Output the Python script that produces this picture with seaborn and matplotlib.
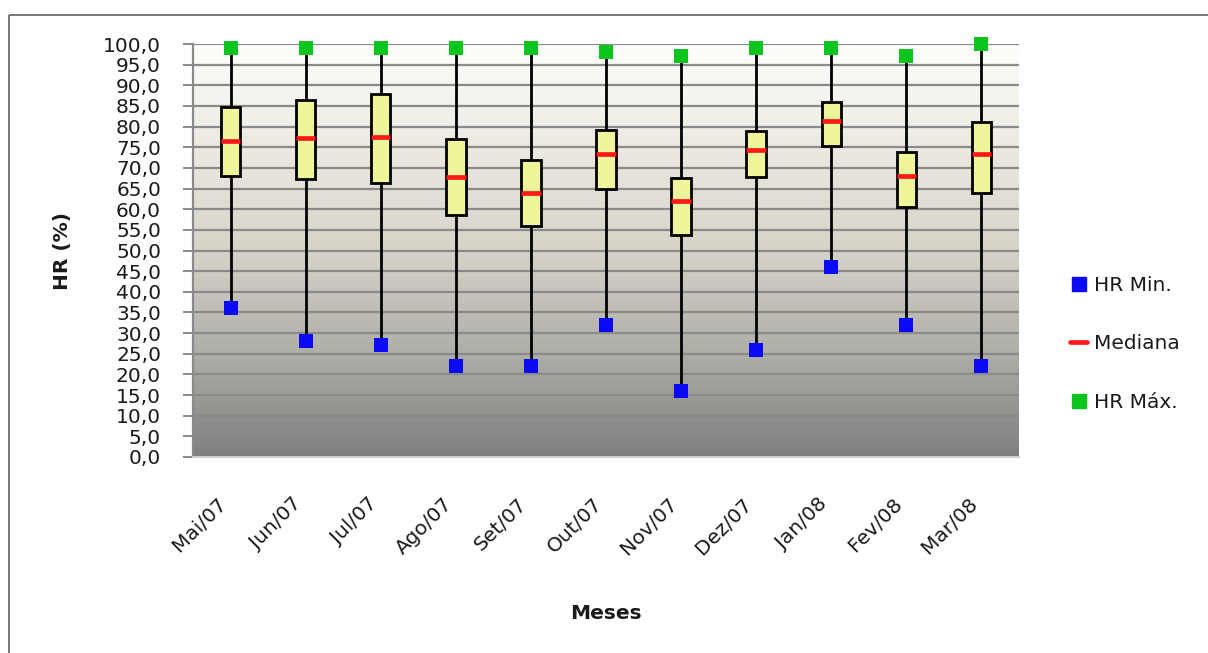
import numpy as np
import pandas as pd
import matplotlib
matplotlib.use("Agg")
import matplotlib.pyplot as plt
import seaborn as sns
from matplotlib.colors import LinearSegmentedColormap
from matplotlib.lines import Line2D

months = ['Mai/07', 'Jun/07', 'Jul/07', 'Ago/07', 'Set/07', 'Out/07',
          'Nov/07', 'Dez/07', 'Jan/08', 'Fev/08', 'Mar/08']
hr_min = [36, 28, 27, 22, 22, 32, 16, 26, 46, 32, 22]
q1 = [68.1, 67.2, 66.4, 58.7, 55.9, 64.8, 53.8, 67.9, 75.3, 60.5, 63.9]
mediana = [76.6, 77.2, 77.6, 67.9, 64.0, 73.4, 61.9, 74.4, 81.4, 68.0, 73.4]
q3 = [84.7, 86.4, 87.9, 77.0, 71.8, 79.2, 67.5, 79.0, 85.9, 73.8, 81.0]
hr_max = [99, 99, 99, 99, 99, 98, 97, 99, 99, 97, 100]
y_ticks = list(range(0, 101, 5))

sns.set_theme(style="white")
plt.rcParams['font.family'] = ['DejaVu Sans']
FS = 14.5

# long table: five values per month -> quartiles at q1/q3, whiskers at min/max
rows = []
for m, a, b, c, d, e in zip(months, hr_min, q1, mediana, q3, hr_max):
    for v in (a, b, c, d, e):
        rows.append({'Mês': m, 'HR': v})
df = pd.DataFrame(rows)
ext = pd.DataFrame({'Mês': months, 'Min': hr_min, 'Max': hr_max})

fig = plt.figure(figsize=(12.08, 6.53), dpi=100)
ax = fig.add_axes([193/1208, 1-457/653, 826/1208, 413/653])

# gradient background
cmap = LinearSegmentedColormap.from_list(
    'bg', [(0.0, '#7f7f7f'), (0.25, '#aeada7'), (0.5, '#d6d3c9'),
           (0.75, '#ebe9e0'), (1.0, '#fefefc')])
grad = np.linspace(0, 1, 256).reshape(-1, 1)
ax.imshow(grad, cmap=cmap, aspect='auto', origin='lower',
          extent=[-0.5, 10.5, 0, 100], zorder=0)

sns.boxplot(data=df, x='Mês', y='HR', order=months, whis=(0, 100),
            width=0.26, showcaps=False, showfliers=False, ax=ax,
            boxprops=dict(facecolor='#eef59a', edgecolor='black', linewidth=2.0, zorder=2),
            whiskerprops=dict(color='black', linewidth=2.0, zorder=1.5),
            medianprops=dict(color='#ff1a1a', linewidth=3.4, zorder=2.5),
            linecolor='black', linewidth=2.0)

n_before = len(ax.collections)
sns.stripplot(data=ext, x='Mês', y='Min', order=months, jitter=False,
              marker='s', size=10, color='#0a0af5', linewidth=0, ax=ax, zorder=4)
sns.stripplot(data=ext, x='Mês', y='Max', order=months, jitter=False,
              marker='s', size=10, color='#0cc41e', linewidth=0, ax=ax, zorder=4)
for coll in ax.collections[n_before:]:
    coll.set_clip_on(False)

ax.set_xlim(-0.5, 10.5)
ax.set_ylim(0, 100)
ax.set_yticks(y_ticks)
ax.set_yticklabels([f"{v:.1f}".replace('.', ',') for v in y_ticks], fontsize=FS,
                   color='#1a1a1a')
ax.yaxis.grid(True, color='#8a8a8a', linewidth=1.6)
ax.xaxis.grid(False)
ax.set_axisbelow(True)
for gl in ax.get_ygridlines():
    gl.set_zorder(1)

ax.tick_params(axis='y', which='major', direction='out', length=7, width=1.4,
               color='#8a8a8a', pad=16, left=True)
ax.tick_params(axis='x', length=0, pad=27)
plt.setp(ax.get_xticklabels(), rotation=45, ha='right', fontsize=FS, color='#1a1a1a')

for s in ['top', 'right']:
    ax.spines[s].set_visible(False)
ax.spines['left'].set_color('#8a8a8a')
ax.spines['left'].set_linewidth(1.6)
ax.spines['bottom'].set_color('#cfcfcf')
ax.spines['bottom'].set_linewidth(1.4)

ax.set_ylabel('HR (%)', fontsize=FS, fontweight='bold', color='#1a1a1a')
ax.set_xlabel('Meses', fontsize=FS, fontweight='bold', color='#1a1a1a')
ax.yaxis.set_label_coords(-0.146, 0.5)
ax.xaxis.set_label_coords(0.5, -0.355)

handles = [
    Line2D([], [], marker='s', linestyle='none', markersize=9.5,
           color='#0a0af5', label='HR Min.'),
    Line2D([], [], color='#ff1a1a', linewidth=3.4, label='Mediana'),
    Line2D([], [], marker='s', linestyle='none', markersize=9.5,
           color='#0cc41e', label='HR Máx.'),
]
leg = fig.legend(handles=handles, loc='center left', bbox_to_anchor=(0.886, 1-344/653),
                 frameon=False, fontsize=FS, labelspacing=1.95, handlelength=0.85,
                 handletextpad=0.35, borderpad=0, borderaxespad=0)
for t in leg.get_texts():
    t.set_color('#1a1a1a')

# outer chart frame: only its top and left edges fall inside the crop
top_y = 1 - 15/653
left_x = 9/1208
fig.add_artist(Line2D([left_x, 1.05], [top_y, top_y], transform=fig.transFigure,
                      color='#555555', linewidth=1.1, solid_capstyle='butt'))
fig.add_artist(Line2D([left_x, left_x], [-0.05, top_y], transform=fig.transFigure,
                      color='#555555', linewidth=1.1, solid_capstyle='butt'))

fig.savefig('out.png', dpi=100)
